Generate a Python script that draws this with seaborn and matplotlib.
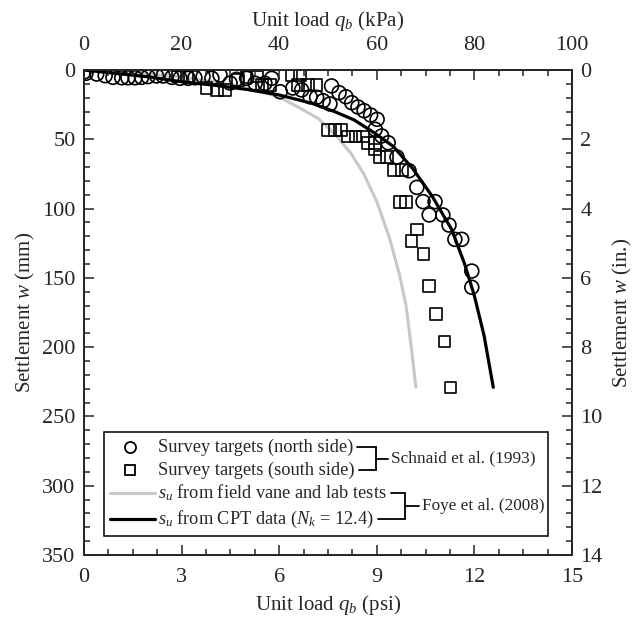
import matplotlib
matplotlib.use("Agg")
import numpy as np
import pandas as pd
import seaborn as sns
import matplotlib.pyplot as plt
from matplotlib.patches import Rectangle
from matplotlib.ticker import MultipleLocator

# ---------------- data ----------------
north_psi = [0.0, 0.06, 0.39, 0.65, 0.89, 1.16, 1.35, 1.57, 1.77, 1.97, 2.23, 2.43, 2.70, 2.95,
             3.20, 3.41, 3.66, 3.93, 4.18, 4.49, 4.69, 5.00, 5.26, 5.56, 5.77, 6.03, 6.42, 6.69,
             6.95, 7.15, 7.35, 7.56, 7.61, 7.84, 8.05, 8.23, 8.42, 8.61, 8.81, 9.01, 8.95, 9.15,
             9.35, 9.62, 9.99, 10.23, 10.42, 10.79, 10.61, 11.03, 11.22, 11.40, 11.61, 11.92, 11.92]
north_mm = [1.4, 2.4, 2.9, 4.1, 5.3, 5.6, 5.6, 5.6, 5.3, 4.8, 4.3, 4.3, 5.3, 6.0,
            6.0, 5.6, 4.8, 6.0, 3.6, 9.4, 6.7, 6.0, 9.6, 9.6, 6.0, 15.7, 13.0, 14.4,
            19.3, 19.7, 22.2, 24.5, 11.5, 16.4, 19.3, 23.6, 26.7, 29.4, 32.5, 35.6, 42.8, 47.6,
            52.5, 62.8, 72.7, 84.7, 95.0, 95.0, 104.6, 104.6, 111.9, 122.2, 122.2, 145.1, 156.8]

south_psi = [2.89, 3.16, 3.77, 4.08, 4.33, 4.73, 5.00, 5.31, 5.47, 5.72, 6.38, 6.64, 6.58, 6.89,
             7.15, 7.50, 7.71, 7.91, 8.12, 8.34, 8.57, 8.73, 8.94, 8.94, 9.08, 9.32, 9.53, 9.77,
             9.71, 9.90, 10.23, 10.07, 10.43, 10.61, 10.82, 11.08, 11.27]
south_mm = [4.8, 4.8, 13.2, 14.4, 14.4, 7.2, 5.1, 4.8, 10.8, 10.8, 3.6, 3.6, 10.8, 10.8,
            10.8, 43.3, 43.3, 43.3, 48.0, 48.0, 48.0, 52.5, 52.5, 57.5, 62.6, 62.6, 72.2, 72.2,
            95.3, 95.3, 115.0, 123.4, 132.9, 155.7, 176.1, 195.8, 229.0]

vane_psi = [0.0, 1.0, 2.0, 3.0, 4.0, 5.0, 6.0, 6.6, 7.2, 7.7, 8.2, 8.6, 9.0, 9.4, 9.7, 9.9, 10.07, 10.2]
vane_mm = [0.0, 1.5, 3.0, 5.0, 8.5, 13.0, 19.5, 27.0, 35.0, 46.0, 60.0, 75.0, 95.0, 122.0, 148.0, 170.0, 202.0, 229.0]

cpt_psi = [0.0, 1.0, 2.0, 3.0, 4.0, 5.0, 6.0, 7.0, 7.7, 8.3, 8.9, 9.5, 10.1, 10.7, 11.3, 11.7, 12.0, 12.3, 12.58]
cpt_mm = [0.0, 2.5, 5.0, 8.5, 11.0, 14.0, 18.0, 24.0, 30.0, 36.0, 45.0, 55.0, 71.0, 91.0, 115.0, 140.0, 163.0, 192.0, 229.0]

legend_labels = ["Survey targets (north side)", "Survey targets (south side)",
                 r"$s_u$ from field vane and lab tests", r"$s_u$ from CPT data ($N_k$ = 12.4)"]
group_labels = ["Schnaid et al. (1993)", "Foye et al. (2008)"]

# ---------------- style ----------------
sns.set_style("ticks")
plt.rcParams["font.family"] = ["Liberation Serif", "DejaVu Serif"]
plt.rcParams["mathtext.fontset"] = "custom"
plt.rcParams["mathtext.rm"] = "Liberation Serif"
plt.rcParams["mathtext.it"] = "Liberation Serif:italic"
plt.rcParams["axes.linewidth"] = 1.1

GRAY = "#c8c8c8"
TICKFS = 16
LABFS = 15
LEGFS = 13.2
GRPFS = 12.4

fig = plt.figure(figsize=(6.34, 6.26), dpi=100)
ax = fig.add_axes([84 / 634, 71 / 626, 488 / 634, 485 / 626])

df_vane = pd.DataFrame({"psi": vane_psi, "mm": vane_mm})
df_cpt = pd.DataFrame({"psi": cpt_psi, "mm": cpt_mm})
df_n = pd.DataFrame({"psi": north_psi, "mm": north_mm})
df_s = pd.DataFrame({"psi": south_psi, "mm": south_mm})

sns.lineplot(data=df_vane, x="psi", y="mm", sort=False, estimator=None, color=GRAY, lw=2.2, ax=ax)
sns.lineplot(data=df_cpt, x="psi", y="mm", sort=False, estimator=None, color="black", lw=2.3, ax=ax)
sns.scatterplot(data=df_n, x="psi", y="mm", marker="o", s=100, facecolor="none",
                edgecolor="black", linewidth=1.2, ax=ax, zorder=3)
sns.scatterplot(data=df_s, x="psi", y="mm", marker="s", s=70, facecolor="none",
                edgecolor="black", linewidth=1.2, ax=ax, zorder=3)

ax.set_xlim(0, 15)
ax.set_ylim(350, 0)
ax.xaxis.set_major_locator(MultipleLocator(3))
ax.xaxis.set_minor_locator(MultipleLocator(0.75))
ax.yaxis.set_major_locator(MultipleLocator(50))
ax.yaxis.set_minor_locator(MultipleLocator(10))
ax.tick_params(axis="both", which="both", direction="in", top=False, right=False,
               labelsize=TICKFS, width=1.1)
ax.tick_params(axis="both", which="major", length=7)
ax.tick_params(axis="both", which="minor", length=4)
ax.tick_params(axis="x", pad=9)
ax.tick_params(axis="y", pad=6)
ax.set_xlabel(r"Unit load $q_b$ (psi)", fontsize=LABFS, labelpad=5)
ax.set_ylabel(r"Settlement $w$ (mm)", fontsize=LABFS, labelpad=4)

ax2 = ax.twiny()
ax2.set_xlim(0, 100)
ax2.xaxis.set_major_locator(MultipleLocator(20))
ax2.xaxis.set_minor_locator(MultipleLocator(5))
ax2.tick_params(axis="x", which="both", direction="in", labelsize=TICKFS, width=1.1, pad=11)
ax2.tick_params(axis="x", which="major", length=7)
ax2.tick_params(axis="x", which="minor", length=4)
ax2.set_xlabel(r"Unit load $q_b$ (kPa)", fontsize=LABFS, labelpad=7)

ax3 = ax.twinx()
ax3.set_ylim(14, 0)
ax3.yaxis.set_major_locator(MultipleLocator(2))
ax3.yaxis.set_minor_locator(MultipleLocator(0.4))
ax3.tick_params(axis="y", which="both", direction="in", labelsize=TICKFS, width=1.1, pad=6)
ax3.tick_params(axis="y", which="major", length=7)
ax3.tick_params(axis="y", which="minor", length=4)
ax3.set_ylabel(r"Settlement $w$ (in.)", fontsize=LABFS, labelpad=6)

for a in (ax, ax2, ax3):
    for sp in a.spines.values():
        sp.set_visible(True)
        sp.set_linewidth(1.1)

# ---------------- legend box with brackets ----------------
def fx(px):
    return (px - 84) / 488

def fy(py):
    return (556 - py) / 485

T = ax.transAxes
ax.add_patch(Rectangle((fx(104), fy(537)), fx(548) - fx(104), fy(433) - fy(537),
                       transform=T, fill=True, facecolor="white", edgecolor="black",
                       lw=1.1, zorder=5))
rows = [448, 471, 494, 520]
ax.plot([fx(130)], [fy(rows[0])], transform=T, marker="o", ms=8, mfc="none", mec="black",
        mew=1.3, zorder=6, clip_on=False)
ax.plot([fx(130)], [fy(rows[1])], transform=T, marker="s", ms=7, mfc="none", mec="black",
        mew=1.3, zorder=6, clip_on=False)
ax.plot([fx(110), fx(155)], [fy(rows[2])] * 2, transform=T, color=GRAY, lw=2.2, zorder=6)
ax.plot([fx(110), fx(155)], [fy(rows[3])] * 2, transform=T, color="black", lw=2.3, zorder=6)
texts = []
for lab, r in zip(legend_labels, rows):
    texts.append(ax.text(fx(158), fy(r), lab, transform=T, fontsize=LEGFS, va="center",
                         ha="left", zorder=6))

fig.canvas.draw()
rend = fig.canvas.get_renderer()
inv = ax.transAxes.inverted()
ends = []
for t in texts:
    bb = t.get_window_extent(rend)
    ends.append(inv.transform((bb.x1, bb.y0))[0])

def bracket(i0, i1, xv, xo, label):
    for i in (i0, i1):
        ax.plot([ends[i] + fx(88) - fx(84), xv], [fy(rows[i])] * 2, transform=T,
                color="black", lw=1.3, zorder=6)
    ax.plot([xv, xv], [fy(rows[i0]), fy(rows[i1])], transform=T, color="black", lw=1.3, zorder=6)
    ym = (fy(rows[i0]) + fy(rows[i1])) / 2
    ax.plot([xv, xo], [ym, ym], transform=T, color="black", lw=1.3, zorder=6)
    ax.text(xo + fx(87) - fx(84), ym, label, transform=T, fontsize=GRPFS, va="center",
            ha="left", zorder=6)

bracket(0, 1, max(fx(376), max(ends[0], ends[1]) + fx(96) - fx(84)), fx(388), group_labels[0])
bracket(2, 3, max(fx(405), max(ends[2], ends[3]) + fx(96) - fx(84)), fx(419), group_labels[1])

fig.savefig("out.png", dpi=100)
